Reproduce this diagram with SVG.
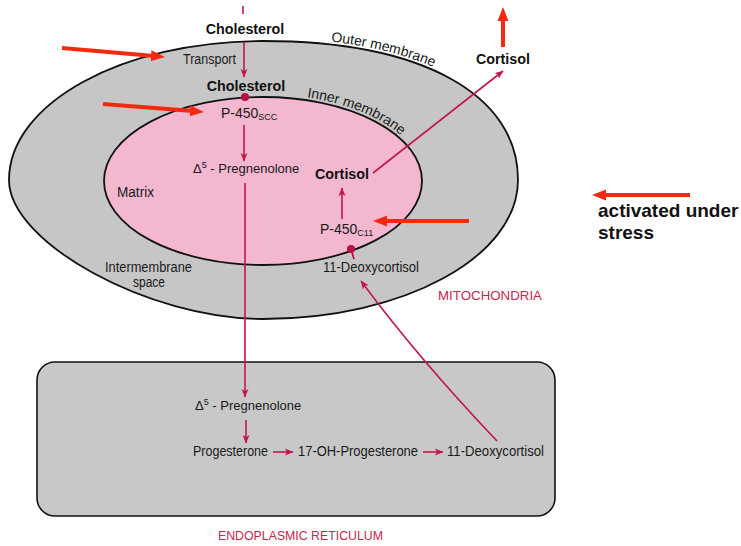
<svg xmlns="http://www.w3.org/2000/svg" width="741" height="546" viewBox="0 0 741 546">
  <style>
    .lbl { font-family: "Liberation Sans", Arial, sans-serif; font-size: 14px; fill: #1a1a1a; }
    .lbs { font-family: "Liberation Sans", Arial, sans-serif; font-size: 13px; fill: #1a1a1a; }
    .sub { font-size: 9px; }
    .bold { font-family: "Liberation Sans", Arial, sans-serif; font-size: 14.3px; font-weight: bold; fill: #111; }
    .mem { font-family: "Liberation Sans", Arial, sans-serif; font-size: 14px; fill: #1a1a1a; }
    .organelle { font-family: "Liberation Sans", Arial, sans-serif; font-size: 13.5px; fill: #c8264f; }
    .note { font-family: "Liberation Sans", Arial, sans-serif; font-size: 19px; font-weight: bold; fill: #111; }
    .flow { fill: none; stroke: #c2184a; stroke-width: 1.6; marker-end: url(#ah); }
    .stress { fill: none; stroke: #f5290f; stroke-width: 4; marker-end: url(#rh); }
    .membrane { stroke: #111; stroke-width: 1.8; }
  </style>
  <defs>
    <marker id="ah" markerUnits="userSpaceOnUse" viewBox="0 0 9 8" markerWidth="9" markerHeight="8" refX="8" refY="4" orient="auto">
      <path d="M0,0.5 L8.5,4 L0,7.5 L2,4 Z" fill="#c2184a"/>
    </marker>
    <marker id="rh" markerUnits="userSpaceOnUse" viewBox="0 0 14 12" markerWidth="14" markerHeight="12" refX="3" refY="6" orient="auto">
      <path d="M0,0.5 L14,6 L0,11.5 Z" fill="#f5290f"/>
    </marker>
    <path id="outerArc" d="M263,38 C422.9,38 521,92.5 521,180"/>
    <path id="innerArc" d="M263,94 C352.5,94 425,133 425,181"/>
  </defs>

  <rect width="741" height="546" fill="#fff"/>

  <!-- mitochondrion: outer and inner membranes -->
  <g id="mitochondria">
    <path id="outer-membrane" class="membrane" fill="#c6c6c6"
          d="M9,180 C9,103.2 122.7,41 263,41 C421.1,41 518,93.8 518,180 C518,256.8 403.8,319 263,319 C148.7,319 9,242.6 9,180 Z"/>
    <ellipse id="matrix" class="membrane" fill="#f3b7cf" cx="263" cy="181" rx="159" ry="84"/>
    <text class="mem"><textPath href="#outerArc" startOffset="68">Outer membrane</textPath></text>
    <text class="mem"><textPath href="#innerArc" startOffset="44">Inner membrane</textPath></text>
    <text class="lbl" x="117" y="197" textLength="37" lengthAdjust="spacingAndGlyphs">Matrix</text>
    <text class="lbl" x="105" y="272" textLength="87" lengthAdjust="spacingAndGlyphs">Intermembrane</text>
    <text class="lbl" x="133" y="287" textLength="32" lengthAdjust="spacingAndGlyphs">space</text>
    <text class="organelle" x="438" y="300" textLength="104" lengthAdjust="spacingAndGlyphs">MITOCHONDRIA</text>
  </g>

  <!-- endoplasmic reticulum -->
  <g id="er">
    <rect x="37" y="362" width="518" height="154" rx="18" fill="#c8c8c8" stroke="#111" stroke-width="1.6"/>
    <text class="organelle" x="218" y="540" textLength="165" lengthAdjust="spacingAndGlyphs">ENDOPLASMIC RETICULUM</text>
  </g>

  <!-- compounds -->
  <g id="cholesterol-cyto"><text class="bold" x="245" y="34" text-anchor="middle">Cholesterol</text></g>
  <g id="transport"><text class="lbl" x="183" y="64" textLength="53" lengthAdjust="spacingAndGlyphs">Transport</text></g>
  <g id="cholesterol-mito"><text class="bold" x="246" y="91" text-anchor="middle">Cholesterol</text></g>
  <g id="p450scc"><text class="lbl" x="221" y="118">P-450<tspan class="sub" dy="2">SCC</tspan></text></g>
  <g id="pregnenolone-mito"><text class="lbs" x="193" y="173">Δ<tspan class="sub" dy="-5">5</tspan><tspan dy="5"> - Pregnenolone</tspan></text></g>
  <g id="cortisol-mito"><text class="bold" x="315" y="179">Cortisol</text></g>
  <g id="p450c11"><text class="lbl" x="320" y="234">P-450<tspan class="sub" dy="2">C11</tspan></text></g>
  <g id="deoxycortisol-mito"><text class="lbl" x="323" y="272" textLength="96" lengthAdjust="spacingAndGlyphs">11-Deoxycortisol</text></g>
  <g id="cortisol-out"><text class="bold" x="503" y="64" text-anchor="middle">Cortisol</text></g>
  <g id="pregnenolone-er"><text class="lbs" x="195" y="410">Δ<tspan class="sub" dy="-5">5</tspan><tspan dy="5"> - Pregnenolone</tspan></text></g>
  <g id="progesterone"><text class="lbl" x="193" y="456" textLength="75" lengthAdjust="spacingAndGlyphs">Progesterone</text></g>
  <g id="oh-progesterone"><text class="lbl" x="298" y="456" textLength="120" lengthAdjust="spacingAndGlyphs">17-OH-Progesterone</text></g>
  <g id="deoxycortisol-er"><text class="lbl" x="447" y="456" textLength="97" lengthAdjust="spacingAndGlyphs">11-Deoxycortisol</text></g>
  <g id="legend">
    <text class="note" x="598" y="217">activated under</text>
    <text class="note" x="598" y="239">stress</text>
  </g>

  <!-- pathway connectors -->
  <g id="connectors">
    <line x1="243" y1="6" x2="243" y2="14" stroke="#c2184a" stroke-width="1.6"/>
    <line class="flow" x1="244" y1="42" x2="244" y2="77"/>
    <circle cx="245" cy="97" r="4" fill="#b5123f"/>
    <line class="flow" x1="244" y1="125" x2="244" y2="161"/>
    <line class="flow" x1="245" y1="183" x2="245" y2="397"/>
    <line class="flow" x1="246" y1="420" x2="246" y2="443"/>
    <line class="flow" x1="273" y1="452" x2="293" y2="452"/>
    <line class="flow" x1="423" y1="452" x2="443" y2="452"/>
    <path class="flow" d="M497,441 Q418,358 361,281"/>
    <line x1="351" y1="249" x2="354" y2="259" stroke="#b5123f" stroke-width="1.8"/>
    <circle cx="351" cy="249" r="4" fill="#b5123f"/>
    <line class="flow" x1="342" y1="219" x2="342" y2="188"/>
    <line class="flow" x1="373" y1="173" x2="503" y2="71"/>

    <!-- stress-activated steps -->
    <line class="stress" x1="62" y1="48" x2="154" y2="56"/>
    <line class="stress" x1="103" y1="104" x2="193" y2="111.1"/>
    <line class="stress" x1="469" y1="221" x2="384" y2="221"/>
    <line class="stress" x1="503" y1="47" x2="503" y2="18"/>
    <line class="stress" x1="690" y1="195" x2="603" y2="195"/>
  </g>
</svg>
